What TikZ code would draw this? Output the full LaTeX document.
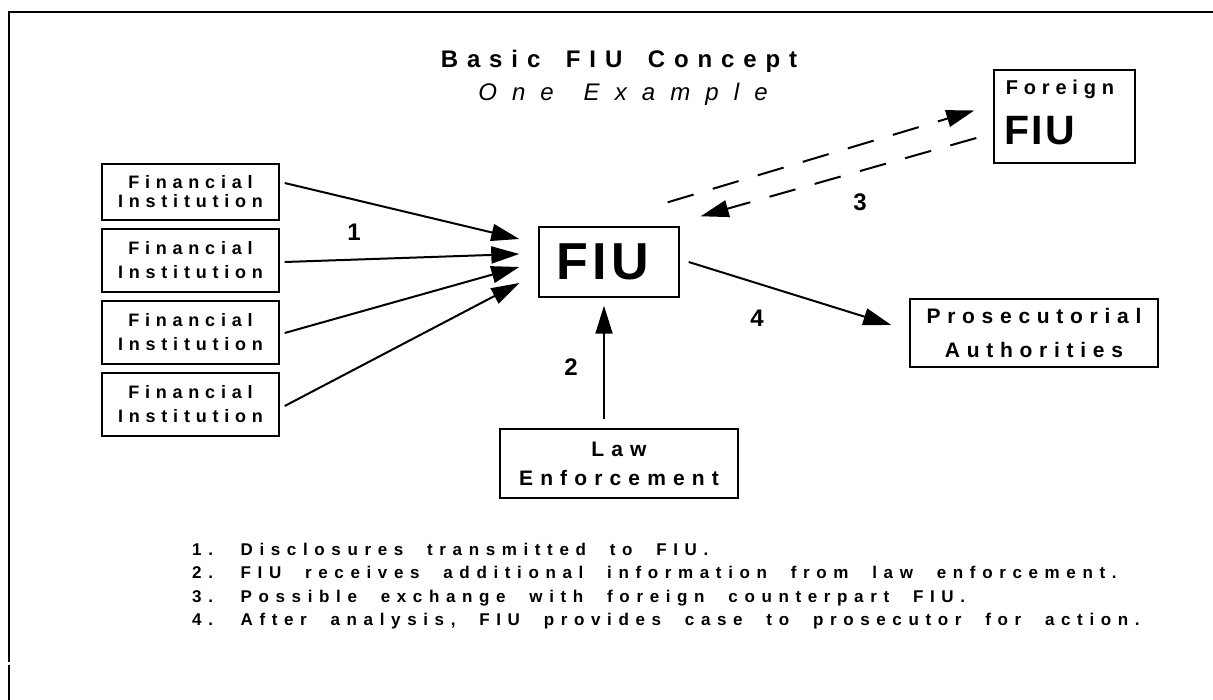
\documentclass[tikz,border=0pt]{standalone}
\usepackage{fontspec}
\setmainfont{Liberation Sans}
\newfontfamily\notefont[LetterSpace=39,WordSpace=2.1]{Liberation Sans}
\usetikzlibrary{arrows.meta,calc}
\newcommand\trk[1]{\addfontfeature{LetterSpace=#1}}

\begin{document}
\begin{tikzpicture}[x=1pt,y=-1pt,
  box/.style={draw,line width=1.4pt,inner sep=0pt,align=center},
  fibox/.style={box,minimum width=177pt,
    font=\bfseries\fontsize{18}{24}\selectfont\trk{32}},
  link/.style={line width=2pt,-{Triangle[length=28pt,width=17pt]}},
  dlink/.style={link,dash pattern=on 27pt off 20pt},
  num/.style={font=\bfseries\fontsize{24}{24}\selectfont,inner sep=0pt},
  note/.style={anchor=base west,inner sep=0pt,
    font=\notefont\bfseries\fontsize{17}{17}\selectfont}]
\useasboundingbox (0,0) rectangle (1213,700);
% frame
\draw[line width=2pt] (9,662) -- (9,12) -- (1213,12);
\draw[line width=2pt] (9,665) -- (9,700);

% heading
\node[anchor=base,inner sep=0pt,font=\bfseries\fontsize{24}{24}\selectfont\trk{37}]
  (title) at (619,68) {Basic\hspace{10pt} FIU\hspace{10pt} Concept};
\node[anchor=base,inner sep=0pt,font=\itshape\fontsize{24}{24}\selectfont\trk{63}]
  (subtitle) at (623,101) {One\hspace{8pt} Example};

% boxes
\node[fibox,minimum height=56pt,font=\bfseries\fontsize{18}{19}\selectfont\trk{32}]
  (fi1) at (190.5,192) {Financial\\Institution};
\node[fibox,minimum height=63pt] (fi2) at (190.5,260.5) {Financial\\Institution};
\node[fibox,minimum height=63pt] (fi3) at (190.5,332.5) {Financial\\Institution};
\node[fibox,minimum height=63pt] (fi4) at (190.5,404.5) {Financial\\Institution};

\node[box,minimum width=140pt,minimum height=70pt,
  font=\bfseries\fontsize{52}{52}\selectfont\trk{8}] (fiu) at (609,262) {FIU\kern12pt};

\node[box,minimum width=238pt,minimum height=69pt,
  font=\bfseries\fontsize{21}{29}\selectfont\trk{34}] (law) at (619,463.5) {Law\\Enforcement};

\node[box,minimum width=248pt,minimum height=68pt,
  font=\bfseries\fontsize{21}{34}\selectfont\trk{32}] (pros) at (1034,333) {Prosecutorial\\Authorities};

\node[box,minimum width=141pt,minimum height=93pt] (foreign) at (1064.5,116.5) {};
\node[anchor=base,inner sep=0pt,font=\bfseries\fontsize{20}{20}\selectfont\trk{29}]
  (foreignA) at (1060,95) {Foreign};
\node[anchor=base,inner sep=0pt,font=\bfseries\fontsize{41}{41}\selectfont\trk{5}]
  (foreignB) at (1040,145) {FIU};

% flows
\draw[link] ($(fi1.east)+(5,-9)$) -- ($(fiu.west)+(-19,-23)$);
\draw[link] ($(fi2.east)+(5,1.5)$) -- ($(fiu.west)+(-19,-8)$);
\draw[link] ($(fi3.east)+(5,0.5)$) -- ($(fiu.west)+(-19,5)$);
\draw[link] ($(fi4.east)+(5,1.5)$) -- ($(fiu.west)+(-19,21)$);
\draw[link] ($(law.north)+(-15,-9)$) -- ($(fiu.south)+(-5,8)$);
\draw[link] ($(fiu.east)+(9,0)$) -- ($(pros.west)+(-18,-8)$);
\draw[dlink] ($(fiu.north east)+(-12,-24)$) -- ($(foreign.west)+(-19,-6)$);
\draw[dlink] ($(foreign.west)+(-17,21.5)$) -- ($(fiu.north east)+(21,-10)$);

% step numbers
\node[num] (n1) at (354,232) {1};
\node[num] (n2) at (571,367) {2};
\node[num] (n3) at (860,202) {3};
\node[num] (n4) at (757,318) {4};

% legend
\node[note] (l1) at (192,555) {1. Disclosures transmitted to FIU.};
\node[note] (l2) at (192,578.5) {2. FIU receives additional information from law enforcement.};
\node[note] (l3) at (192,602) {3. Possible exchange with foreign counterpart FIU.};
\node[note] (l4) at (192,625.5) {4. After analysis, FIU provides case to prosecutor for action.};
\end{tikzpicture}
\end{document}
